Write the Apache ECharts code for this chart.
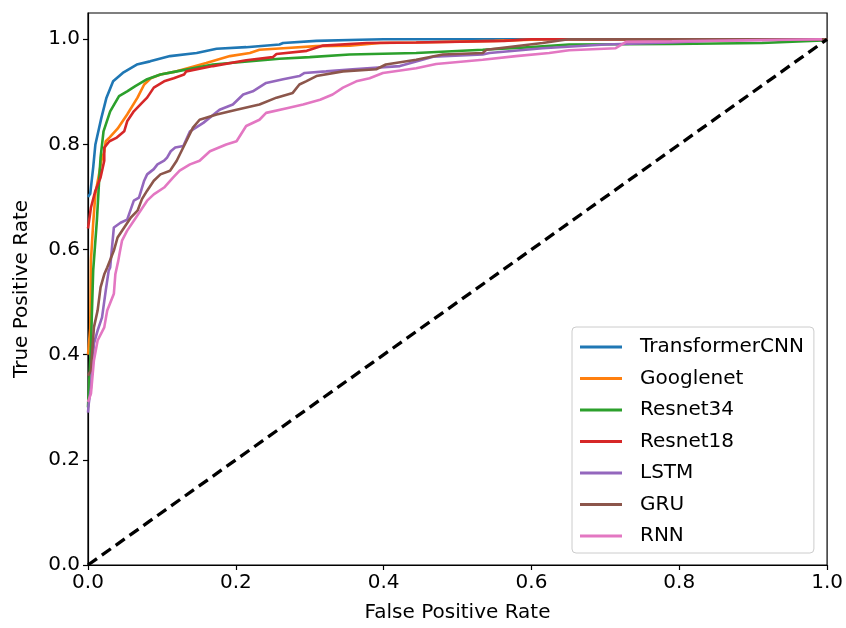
<!DOCTYPE html>
<html>
<head>
<meta charset="utf-8">
<script src="https://cdn.jsdelivr.net/npm/echarts@6/dist/echarts.min.js"></script>
<style>
  html, body { margin: 0; padding: 0; background: #fff; }
  #roc { width: 846px; height: 628px; }
</style>
</head>
<body>
<div id="roc"></div>
<script>
// model names, in legend order
var models = ['TransformerCNN', 'Googlenet', 'Resnet34', 'Resnet18', 'LSTM', 'GRU', 'RNN'];
var colors = ['#1f77b4', '#ff7f0e', '#2ca02c', '#d62728', '#9467bd', '#8c564b', '#e377c2'];
var tickValues = [0, 0.2, 0.4, 0.6, 0.8, 1.0];

// [fpr, tpr]
var transformerRoc = [[0,0.70],[0.003,0.706],[0.007,0.756],[0.01,0.80],[0.018,0.85],[0.025,0.889],[0.034,0.92],[0.047,0.936],[0.066,0.952],[0.084,0.958],[0.111,0.968],[0.147,0.974],[0.174,0.982],[0.214,0.985],[0.259,0.99],[0.264,0.993],[0.309,0.997],[0.368,0.999],[0.40,1.0],[1,1]];
var googlenetRoc = [[0,0.40],[0.003,0.45],[0.004,0.58],[0.007,0.65],[0.010,0.706],[0.015,0.744],[0.018,0.768],[0.022,0.787],[0.024,0.806],[0.029,0.813],[0.04,0.83],[0.053,0.857],[0.067,0.889],[0.076,0.914],[0.085,0.926],[0.098,0.933],[0.12,0.939],[0.16,0.955],[0.192,0.968],[0.219,0.974],[0.232,0.98],[0.264,0.983],[0.309,0.987],[0.354,0.988],[0.395,0.993],[0.444,0.994],[0.55,0.997],[0.62,1.0],[1,1]];
var resnet34Roc = [[0,0.30],[0.004,0.42],[0.007,0.56],[0.012,0.655],[0.015,0.73],[0.017,0.775],[0.021,0.825],[0.03,0.863],[0.042,0.892],[0.053,0.901],[0.064,0.911],[0.08,0.924],[0.098,0.933],[0.12,0.939],[0.169,0.952],[0.259,0.963],[0.3,0.966],[0.354,0.971],[0.444,0.974],[0.534,0.98],[0.6,0.985],[0.651,0.99],[0.79,0.991],[0.912,0.993],[0.994,0.998],[1,1]];
var resnet18Roc = [[0,0.64],[0.004,0.68],[0.01,0.712],[0.017,0.737],[0.022,0.769],[0.022,0.794],[0.029,0.806],[0.039,0.813],[0.049,0.825],[0.053,0.844],[0.062,0.863],[0.073,0.879],[0.08,0.889],[0.089,0.908],[0.103,0.92],[0.116,0.926],[0.13,0.933],[0.133,0.939],[0.169,0.949],[0.214,0.96],[0.25,0.966],[0.255,0.972],[0.296,0.978],[0.318,0.988],[0.377,0.993],[0.444,0.994],[0.563,0.997],[0.6,1.0],[1,1]];
var lstmRoc = [[0,0.29],[0.001,0.307],[0.004,0.338],[0.008,0.421],[0.013,0.446],[0.019,0.471],[0.024,0.522],[0.028,0.56],[0.03,0.566],[0.035,0.642],[0.044,0.651],[0.053,0.657],[0.062,0.693],[0.069,0.699],[0.076,0.731],[0.08,0.743],[0.089,0.753],[0.094,0.762],[0.103,0.769],[0.107,0.775],[0.112,0.787],[0.118,0.794],[0.129,0.797],[0.138,0.825],[0.156,0.841],[0.178,0.866],[0.196,0.876],[0.21,0.895],[0.223,0.901],[0.241,0.917],[0.264,0.924],[0.286,0.93],[0.293,0.936],[0.322,0.939],[0.358,0.943],[0.422,0.949],[0.467,0.967],[0.534,0.971],[0.543,0.974],[0.615,0.983],[0.7,0.99],[0.79,0.994],[0.85,0.998],[1,1]];
var gruRoc = [[0,0.36],[0.004,0.37],[0.008,0.452],[0.013,0.484],[0.017,0.528],[0.022,0.553],[0.026,0.566],[0.035,0.598],[0.04,0.623],[0.049,0.642],[0.058,0.661],[0.067,0.674],[0.073,0.696],[0.08,0.712],[0.089,0.731],[0.098,0.743],[0.111,0.75],[0.12,0.769],[0.133,0.806],[0.142,0.832],[0.151,0.847],[0.174,0.857],[0.201,0.866],[0.232,0.876],[0.255,0.889],[0.277,0.898],[0.286,0.914],[0.295,0.92],[0.309,0.93],[0.345,0.939],[0.39,0.943],[0.403,0.952],[0.444,0.961],[0.48,0.971],[0.534,0.974],[0.539,0.98],[0.615,0.993],[0.65,1.0],[1,1]];
var rnnRoc = [[0,0.31],[0.004,0.326],[0.008,0.389],[0.013,0.427],[0.022,0.452],[0.026,0.484],[0.035,0.516],[0.037,0.553],[0.041,0.579],[0.043,0.595],[0.046,0.617],[0.053,0.636],[0.062,0.655],[0.071,0.674],[0.08,0.693],[0.089,0.705],[0.103,0.718],[0.115,0.737],[0.124,0.75],[0.138,0.762],[0.151,0.769],[0.165,0.787],[0.187,0.80],[0.201,0.806],[0.214,0.835],[0.232,0.847],[0.241,0.86],[0.269,0.869],[0.291,0.876],[0.314,0.885],[0.331,0.895],[0.345,0.908],[0.363,0.92],[0.381,0.926],[0.399,0.936],[0.444,0.945],[0.471,0.953],[0.534,0.961],[0.579,0.968],[0.624,0.974],[0.651,0.979],[0.714,0.983],[0.728,0.995],[0.79,0.996],[0.993,1.0]];
var chanceLine = [[0,0],[1,1]];

var rocData = [transformerRoc, googlenetRoc, resnet34Roc, resnet18Roc, lstmRoc, gruRoc, rnnRoc];

var chart = echarts.init(document.getElementById('roc'));
var font = 'DejaVu Sans';

var series = models.map(function (name, i) {
  return {
    name: name,
    type: 'line',
    data: rocData[i],
    symbol: 'none',
    lineStyle: { color: colors[i], width: 2.6 },
    itemStyle: { color: colors[i] },
    animation: false
  };
});
series.push({
  name: 'chance',
  type: 'line',
  data: chanceLine,
  symbol: 'none',
  silent: true,
  z: 5,
  lineStyle: { color: '#000', width: 3.3, type: [11, 6] },
  animation: false
});

var axisCommon = {
  type: 'value',
  min: 0,
  nameLocation: 'middle',
  nameTextStyle: { fontFamily: font, fontSize: 20, color: '#000' },
  axisLine: { show: true, lineStyle: { color: '#000', width: 1.2 } },
  axisTick: { show: true, length: 5, lineStyle: { color: '#000', width: 1.2 }, customValues: tickValues },
  axisLabel: {
    fontFamily: font, fontSize: 20, color: '#000', margin: 8,
    customValues: tickValues,
    formatter: function (v) { return v.toFixed(1); }
  },
  splitLine: { show: false }
};

option = {
  backgroundColor: '#fff',
  animation: false,
  grid: {
    left: 88, right: 18, top: 13, bottom: 63,
    show: true, borderColor: '#000', borderWidth: 1.2, backgroundColor: 'transparent'
  },
  xAxis: Object.assign({}, axisCommon, { max: 1, name: 'False Positive Rate', nameGap: 38 }),
  yAxis: Object.assign({}, axisCommon, { max: 1.05, name: 'True Positive Rate', nameGap: 56 }),
  legend: {
    data: models,
    orient: 'vertical',
    left: 572,
    top: 327,
    padding: [10, 10, 7, 8],
    icon: 'rect',
    itemWidth: 42,
    itemHeight: 3,
    itemGap: 11.5,
    backgroundColor: 'rgba(255,255,255,0.85)',
    borderColor: '#cccccc',
    borderWidth: 1,
    borderRadius: 4,
    textStyle: { fontFamily: font, fontSize: 20, color: '#000', lineHeight: 20, padding: [0, 0, 0, 13] }
  },
  series: series
};
chart.setOption(option);
</script>
</body>
</html>
